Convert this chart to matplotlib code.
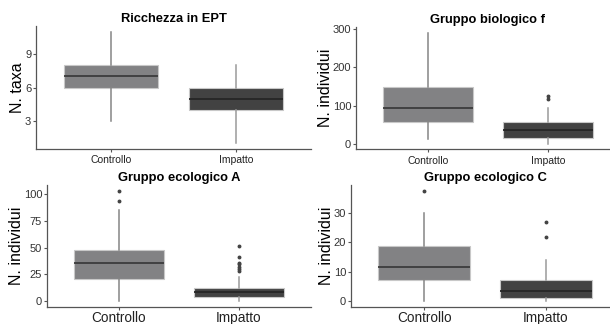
import matplotlib
matplotlib.use("Agg")
import matplotlib.pyplot as plt

plt.rcParams['font.family'] = ['Liberation Sans', 'DejaVu Sans']

W, H = 610, 324

groups = ["Controllo", "Impatto"]

# box statistics: q1, median, q3, whisker low, whisker high, outliers
titles = ["Ricchezza in EPT", "Gruppo biologico f", "Gruppo ecologico A", "Gruppo ecologico C"]
ylabels = ["N. taxa", "N. individui", "N. individui", "N. individui"]

ept_q1 = [6, 4]
ept_med = [7, 5]
ept_q3 = [8, 6]
ept_lo = [3, 1]
ept_hi = [11, 8]
ept_out = [[], []]

bio_q1 = [56, 16]
bio_med = [94, 35]
bio_q3 = [149, 56]
bio_lo = [12, 0]
bio_hi = [290, 94]
bio_out = [[], [116, 125]]

ecoA_q1 = [20.5, 4]
ecoA_med = [36, 8]
ecoA_q3 = [47.5, 12.5]
ecoA_lo = [0, 0]
ecoA_hi = [85, 22]
ecoA_out = [[93.5, 103.5], [28, 29.6, 32, 34.6, 36, 41.4, 51.7]]

ecoC_q1 = [7, 1]
ecoC_med = [11.5, 3.3]
ecoC_q3 = [18.7, 7]
ecoC_lo = [0, 0]
ecoC_hi = [30, 14]
ecoC_out = [[37.7], [21.8, 26.8]]

yticks = [[3, 6, 9], [0, 100, 200, 300], [0, 25, 50, 75, 100], [0, 10, 20, 30]]

fills = ["#828284", "#424242"]
medcols = ["#3c3c3c", "#262626"]
whiskcols = ["#858585", "#9a9a9a"]

fig = plt.figure(figsize=(W / 100, H / 100), dpi=100)

def px_axes(l, t, r, b):
    return fig.add_axes([l / W, 1 - b / H, (r - l) / W, (b - t) / H])

# panel rectangles in pixels (left, top, right, bottom)
rects = [(36, 26, 311, 149), (356, 27, 620, 149.5), (47, 185, 311, 306.5), (351, 185, 619, 306.5)]
stats_all = [
    (ept_q1, ept_med, ept_q3, ept_lo, ept_hi, ept_out),
    (bio_q1, bio_med, bio_q3, bio_lo, bio_hi, bio_out),
    (ecoA_q1, ecoA_med, ecoA_q3, ecoA_lo, ecoA_hi, ecoA_out),
    (ecoC_q1, ecoC_med, ecoC_q3, ecoC_lo, ecoC_hi, ecoC_out),
]
xlab_size = [7.5, 7.5, 9.8, 9.8]
xlab_pad = [2, 2, 1, 1]

for k in range(4):
    ax = px_axes(*rects[k])
    q1, med, q3, lo, hi, out = stats_all[k]
    allv = lo + hi + [v for o in out for v in o]
    vmin, vmax = min(allv), max(allv)
    pad = (vmax - vmin) * 0.05
    for i in range(2):
        st = [dict(q1=q1[i], med=med[i], q3=q3[i], whislo=lo[i], whishi=hi[i], fliers=out[i])]
        ax.bxp(st, positions=[i + 1], widths=0.75, patch_artist=True, showcaps=False,
               boxprops=dict(facecolor=fills[i], edgecolor="#c8c8c8", linewidth=0.8),
               medianprops=dict(color=medcols[i], linewidth=1.3),
               whiskerprops=dict(color=whiskcols[i], linewidth=1.1),
               flierprops=dict(marker="o", markersize=1.8, markerfacecolor="#444444",
                               markeredgecolor="#444444"))
    ax.set_xlim(0.4, 2.6)
    ax.set_ylim(vmin - pad, vmax + pad)
    ax.set_xticks([1, 2])
    ax.set_xticklabels(groups, fontsize=xlab_size[k], color="#222222")
    ax.set_yticks(yticks[k])
    ax.set_yticklabels([str(t) for t in yticks[k]], fontsize=8, color="#333333")
    ax.set_ylabel(ylabels[k], fontsize=11.5, labelpad=0)
    ax.set_title(titles[k], fontsize=9.3, fontweight="bold", pad=3)
    for s in ["top", "right"]:
        ax.spines[s].set_visible(False)
    for s in ["left", "bottom"]:
        ax.spines[s].set_color("#555555")
        ax.spines[s].set_linewidth(0.9)
    ax.tick_params(axis="y", length=2, width=0.8, color="#555555", pad=1.5)
    ax.tick_params(axis="x", length=2.5, width=0.8, color="#555555", pad=xlab_pad[k])

fig.savefig("out.png", dpi=100)
